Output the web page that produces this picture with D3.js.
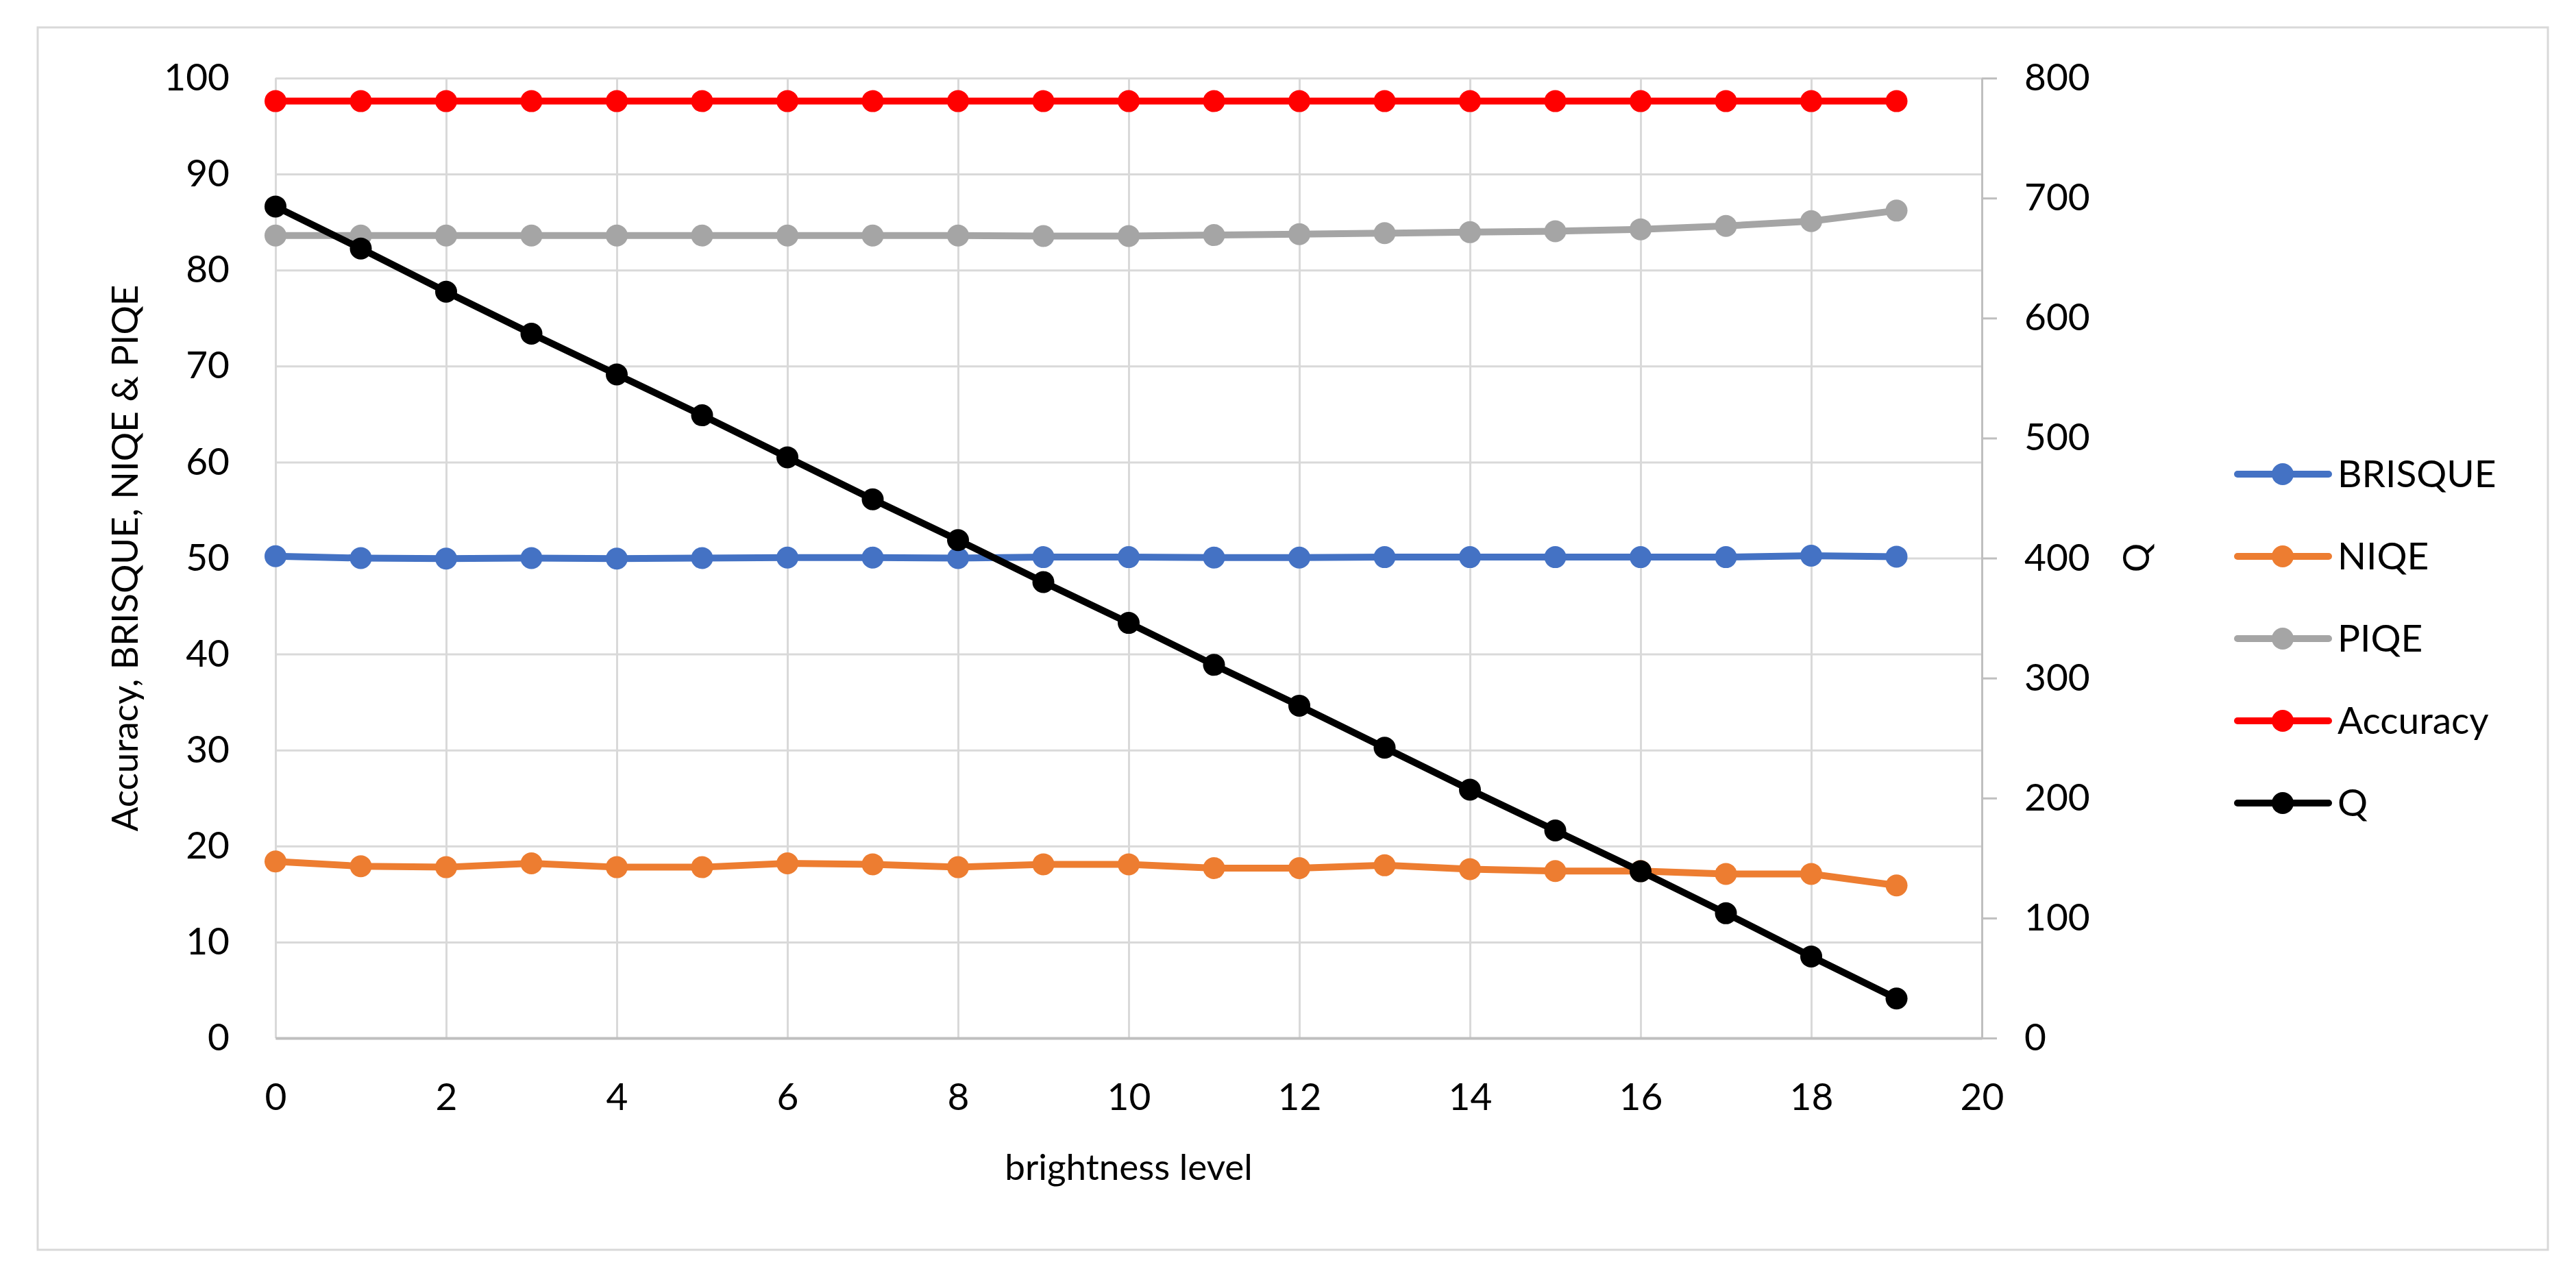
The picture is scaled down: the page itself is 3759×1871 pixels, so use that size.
<!DOCTYPE html>
<html>
<head>
<meta charset="utf-8">
<script src="https://cdn.jsdelivr.net/npm/d3@7"></script>
<style>
  body { margin: 0; background: #ffffff; }
  text { font-family: Lato, "Open Sans", sans-serif; fill: #000000; }
</style>
</head>
<body>
<div id="container"></div>
<script>
// data
let levels = d3.range(0, 20);
let brisque = [50.2, 50.0, 49.95, 50.0, 49.95, 50.0, 50.05, 50.05, 50.0, 50.1, 50.1, 50.05, 50.05, 50.1, 50.1, 50.1, 50.1, 50.1, 50.25, 50.15];
let niqe = [18.4, 17.9, 17.8, 18.2, 17.8, 17.8, 18.2, 18.1, 17.8, 18.1, 18.1, 17.7, 17.7, 18.0, 17.6, 17.4, 17.4, 17.1, 17.1, 15.9];
let piqe = [83.6, 83.6, 83.6, 83.6, 83.6, 83.6, 83.6, 83.6, 83.6, 83.55, 83.55, 83.65, 83.75, 83.85, 83.95, 84.05, 84.25, 84.6, 85.1, 86.2];
let accuracy = [97.6, 97.6, 97.6, 97.6, 97.6, 97.6, 97.6, 97.6, 97.6, 97.6, 97.6, 97.6, 97.6, 97.6, 97.6, 97.6, 97.6, 97.6, 97.6, 97.6];
let q = [693, 658, 622, 587, 553, 519, 484, 449, 415, 380, 346, 311, 277, 242, 207, 173, 139, 104, 68, 33];

let seriesNames = ["BRISQUE", "NIQE", "PIQE", "Accuracy", "Q"];
let seriesColors = ["#4472C4", "#ED7D31", "#A5A5A5", "#FF0000", "#000000"];

let xTicks = d3.range(0, 21, 2);
let yLeftTicks = d3.range(0, 101, 10);
let yRightTicks = d3.range(0, 801, 100);

let xTitle = "brightness level";
let yLeftTitle = "Accuracy, BRISQUE, NIQE & PIQE";
let yRightTitle = "Q";

let w = 3759;
let h = 1871;
let plotLeft = 402, plotRight = 2892, plotTop = 114, plotBottom = 1515;
let fontSize = 55;
let titleSize = 53;

let viz = d3.select("#container")
  .append("svg")
    .attr("width", w)
    .attr("height", h)
;

// outer frame
viz.append("rect")
    .attr("x", 55)
    .attr("y", 40)
    .attr("width", 3718 - 55)
    .attr("height", 1824 - 40)
    .attr("fill", "white")
    .attr("stroke", "#d9d9d9")
    .attr("stroke-width", 3)
;

let xScale = d3.scaleLinear().domain([0, 20]).range([plotLeft, plotRight]);
let yScale = d3.scaleLinear().domain([0, 100]).range([plotBottom, plotTop]);
let qScale = d3.scaleLinear().domain([0, 800]).range([plotBottom, plotTop]);

// gridlines
let gridY = viz.append("g")
    .attr("transform", "translate(" + plotLeft + ",0)")
    .call(d3.axisLeft(yScale).tickValues(yLeftTicks).tickSize(-(plotRight - plotLeft)).tickFormat(""));
gridY.select(".domain").remove();
gridY.selectAll("line").attr("stroke", "#d9d9d9").attr("stroke-width", 3);

let gridX = viz.append("g")
    .attr("transform", "translate(0," + plotBottom + ")")
    .call(d3.axisBottom(xScale).tickValues(xTicks).tickSize(-(plotBottom - plotTop)).tickFormat(""));
gridX.select(".domain").remove();
gridX.selectAll("line").attr("stroke", "#d9d9d9").attr("stroke-width", 3);

// left axis labels
let yAxisGroup = viz.append("g")
    .attr("transform", "translate(" + plotLeft + ",0)")
    .call(d3.axisLeft(yScale).tickValues(yLeftTicks).tickSize(0).tickPadding(67));
yAxisGroup.select(".domain").remove();
yAxisGroup.selectAll("text").style("font-size", fontSize + "px").style("font-family", "Lato");

// bottom axis
let xAxisGroup = viz.append("g")
    .attr("transform", "translate(0," + plotBottom + ")")
    .call(d3.axisBottom(xScale).tickValues(xTicks).tickSize(0).tickPadding(66).tickSizeOuter(0));
xAxisGroup.select(".domain").attr("stroke", "#bfbfbf").attr("stroke-width", 4);
xAxisGroup.selectAll("text").style("font-size", fontSize + "px").style("font-family", "Lato");

// right axis for Q
let qAxisGroup = viz.append("g")
    .attr("transform", "translate(" + plotRight + ",0)")
    .call(d3.axisRight(qScale).tickValues(yRightTicks).tickSize(22).tickPadding(40).tickSizeOuter(0));
qAxisGroup.select(".domain").attr("stroke", "#bfbfbf").attr("stroke-width", 3);
qAxisGroup.selectAll("line").attr("stroke", "#bfbfbf").attr("stroke-width", 3);
qAxisGroup.selectAll("text").style("font-size", fontSize + "px").style("font-family", "Lato");

// series
let allSeries = [
  {name: "BRISQUE", values: brisque, scale: yScale},
  {name: "NIQE", values: niqe, scale: yScale},
  {name: "PIQE", values: piqe, scale: yScale},
  {name: "Accuracy", values: accuracy, scale: yScale},
  {name: "Q", values: q, scale: qScale}
];

allSeries.forEach(function(s, i){
  let color = seriesColors[i];
  let lineMaker = d3.line()
    .x(function(d, j){ return xScale(levels[j]) })
    .y(function(d){ return s.scale(d) })
  ;
  viz.append("path")
      .datum(s.values)
      .attr("d", lineMaker)
      .attr("fill", "none")
      .attr("stroke", color)
      .attr("stroke-width", 10)
      .attr("stroke-linejoin", "round")
  ;
  viz.append("g").selectAll("circle")
    .data(s.values)
    .enter()
    .append("circle")
      .attr("cx", function(d, j){ return xScale(levels[j]) })
      .attr("cy", function(d){ return s.scale(d) })
      .attr("r", 16)
      .attr("fill", color)
  ;
});

// axis titles
viz.append("text")
    .attr("x", (plotLeft + plotRight) / 2)
    .attr("y", 1703)
    .attr("text-anchor", "middle")
    .attr("dy", "0.35em")
    .style("font-size", titleSize + "px")
    .text(xTitle);

viz.append("text")
    .attr("transform", "translate(182," + ((plotTop + plotBottom) / 2) + ") rotate(-90)")
    .attr("text-anchor", "middle")
    .attr("dy", "0.35em")
    .style("font-size", titleSize + "px")
    .text(yLeftTitle);

viz.append("text")
    .attr("transform", "translate(3117," + 814 + ") rotate(-90)")
    .attr("text-anchor", "middle")
    .attr("dy", "0.35em")
    .style("font-size", titleSize + "px")
    .text(yRightTitle);

// legend
let legend = viz.append("g").attr("transform", "translate(3265,692)");
let legendItems = legend.selectAll("g")
  .data(seriesNames)
  .enter()
  .append("g")
    .attr("transform", function(d, i){ return "translate(0," + (i * 120) + ")" });

legendItems.append("line")
    .attr("x1", 0).attr("x2", 133)
    .attr("y1", 0).attr("y2", 0)
    .attr("stroke", function(d, i){ return seriesColors[i] })
    .attr("stroke-width", 10)
    .attr("stroke-linecap", "round");
legendItems.append("circle")
    .attr("cx", 66).attr("cy", 0).attr("r", 16)
    .attr("fill", function(d, i){ return seriesColors[i] });
legendItems.append("text")
    .attr("x", 146)
    .attr("dy", "0.35em")
    .style("font-size", fontSize + "px")
    .text(function(d){ return d });
</script>
</body>
</html>
